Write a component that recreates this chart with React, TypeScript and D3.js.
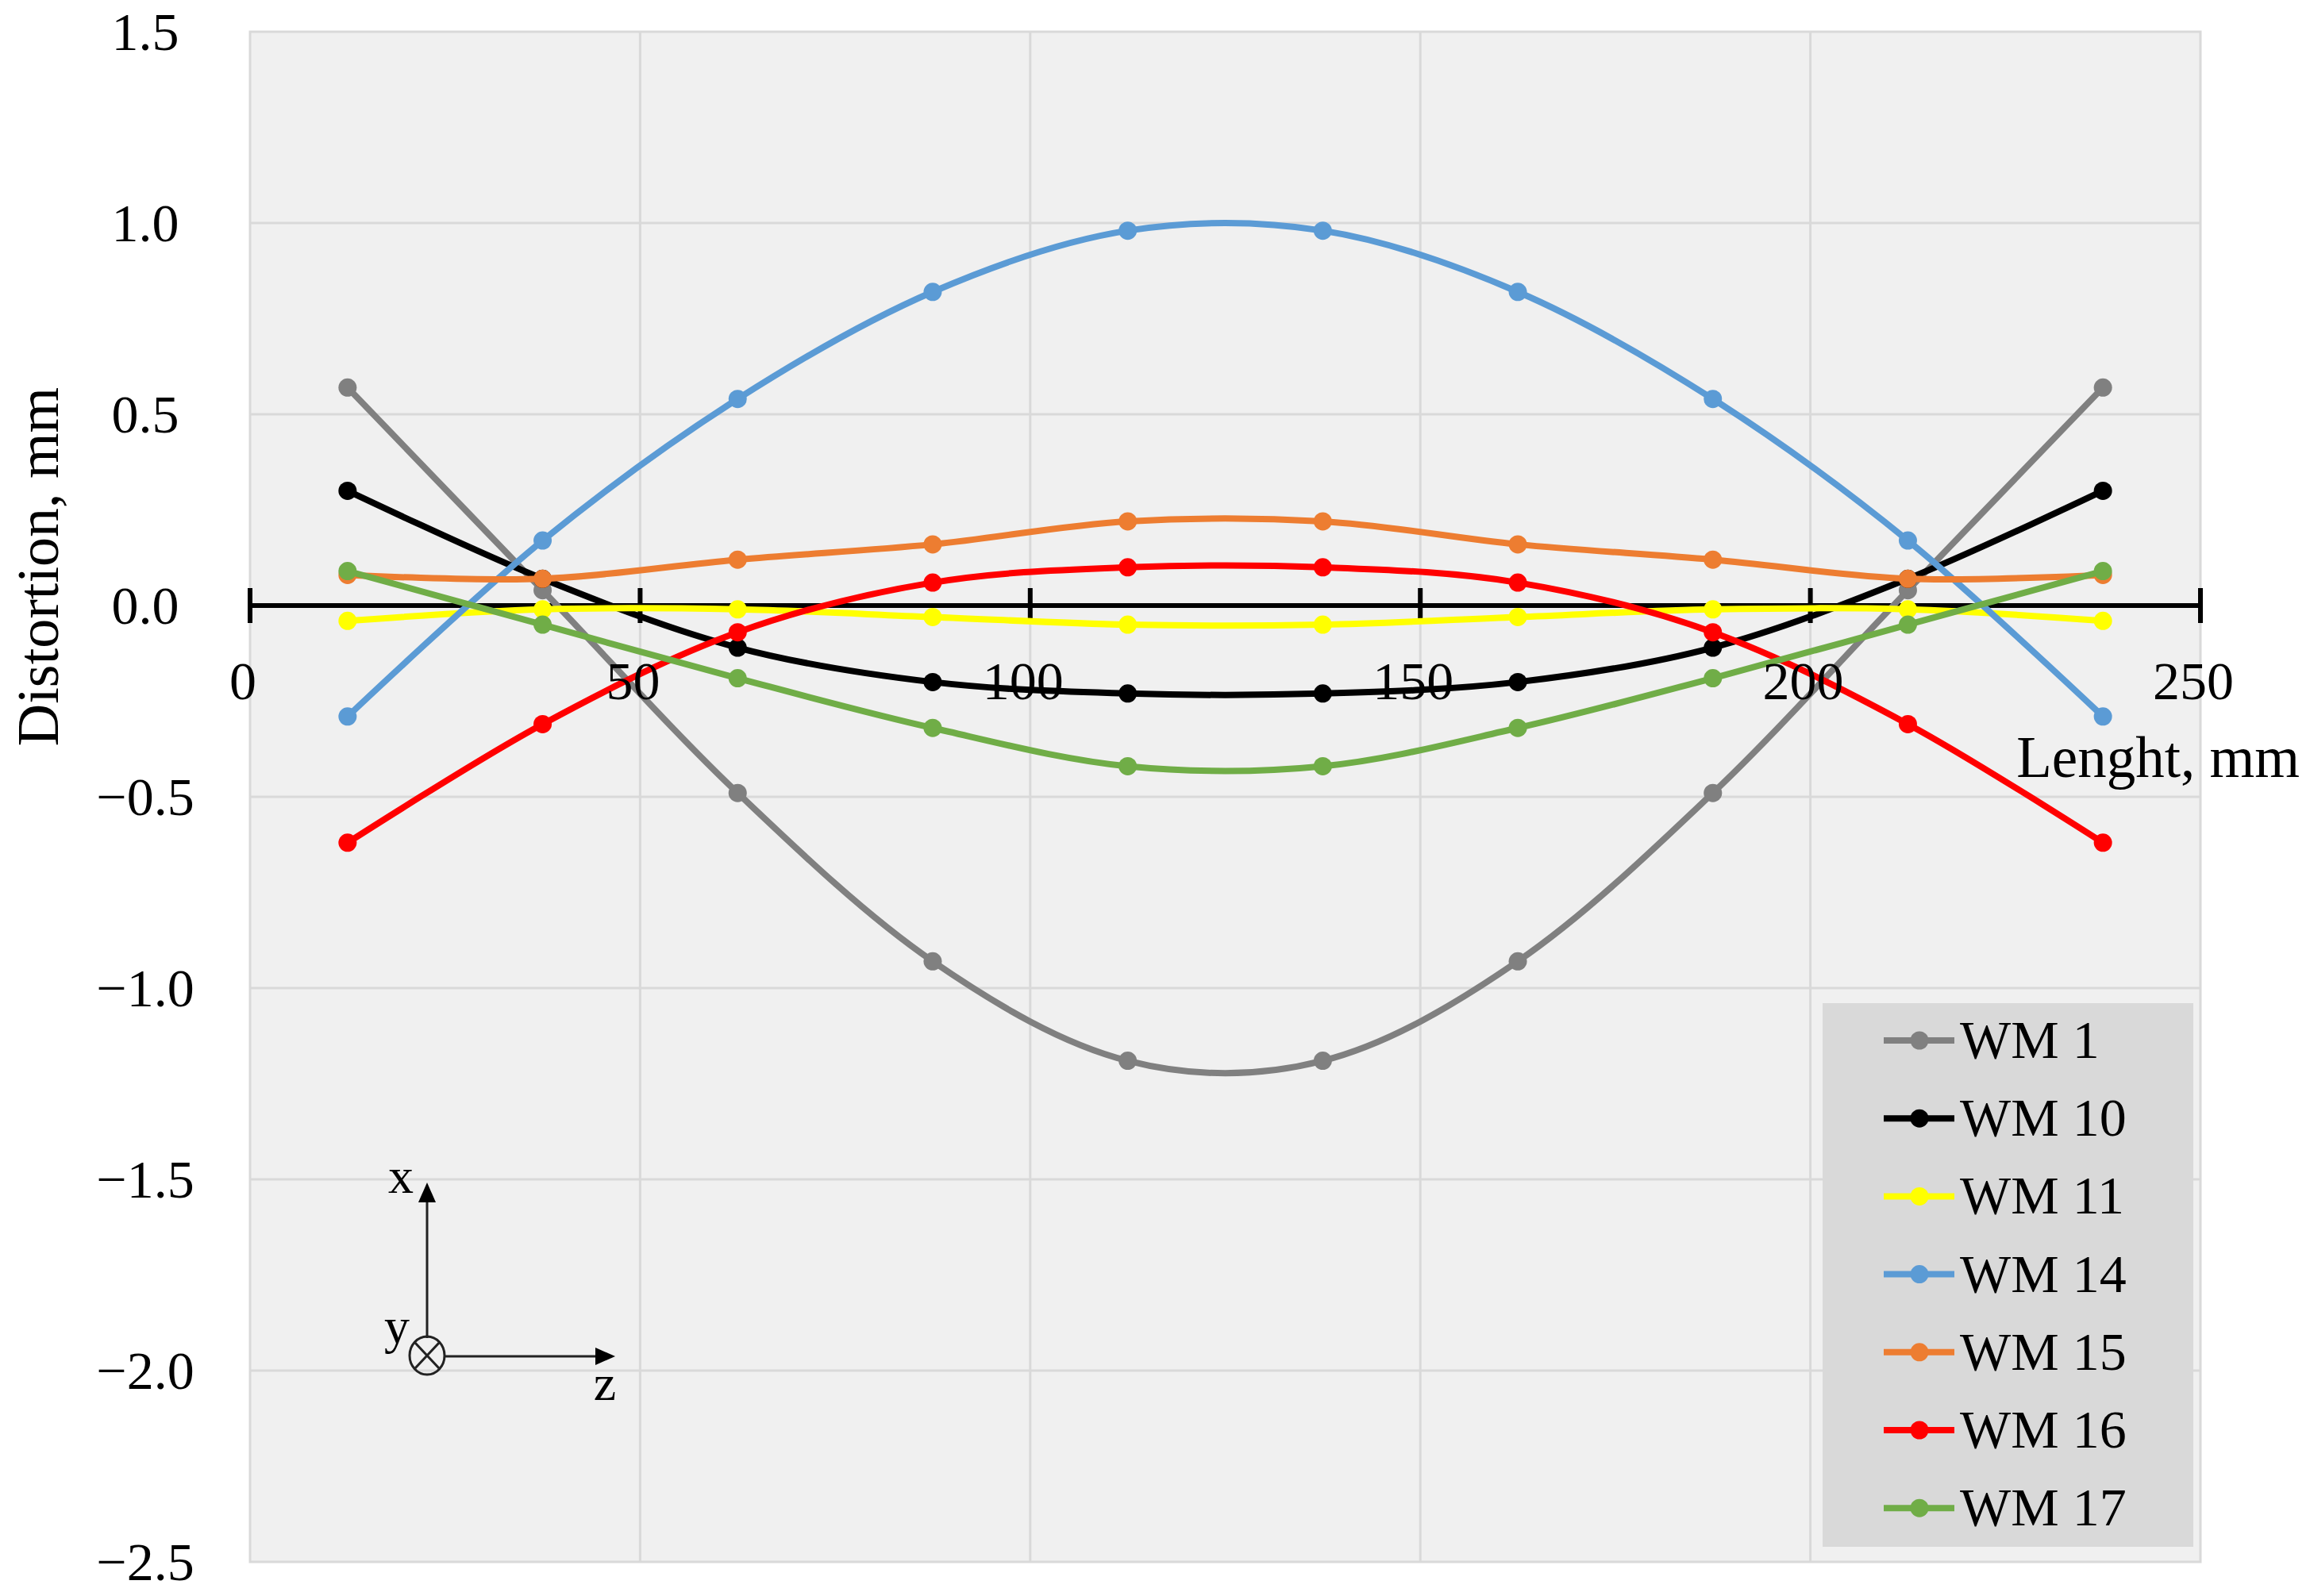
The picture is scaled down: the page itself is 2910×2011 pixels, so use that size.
import React, { useEffect } from "react";
import * as d3 from "d3";

// lengths along the weld (mm) where distortion was measured
const lengths = [12.5, 37.5, 62.5, 87.5, 112.5, 137.5, 162.5, 187.5, 212.5, 237.5];

const wm1 = [0.57, 0.04, -0.49, -0.93, -1.19, -1.19, -0.93, -0.49, 0.04, 0.57];
const wm10 = [0.3, 0.07, -0.11, -0.2, -0.23, -0.23, -0.2, -0.11, 0.07, 0.3];
const wm11 = [-0.04, -0.01, -0.01, -0.03, -0.05, -0.05, -0.03, -0.01, -0.01, -0.04];
const wm14 = [-0.29, 0.17, 0.54, 0.82, 0.98, 0.98, 0.82, 0.54, 0.17, -0.29];
const wm15 = [0.08, 0.07, 0.12, 0.16, 0.22, 0.22, 0.16, 0.12, 0.07, 0.08];
const wm16 = [-0.62, -0.31, -0.07, 0.06, 0.1, 0.1, 0.06, -0.07, -0.31, -0.62];
const wm17 = [0.09, -0.05, -0.19, -0.32, -0.42, -0.42, -0.32, -0.19, -0.05, 0.09];

const seriesNames = ["WM 1", "WM 10", "WM 11", "WM 14", "WM 15", "WM 16", "WM 17"];
const seriesValues = [wm1, wm10, wm11, wm14, wm15, wm16, wm17];
const seriesColors = ["#808080", "#000000", "#ffff00", "#5b9bd5", "#ed7d31", "#ff0000", "#70ad47"];

const xTicks = [0, 50, 100, 150, 200, 250];
const yTicks = [1.5, 1.0, 0.5, 0.0, -0.5, -1.0, -1.5, -2.0, -2.5];

const W = 2910;
const H = 2011;
const FONT = "'Liberation Serif', 'Times New Roman', serif";

const App = () => {
  useEffect(() => {
    document.body.style.margin = "0";
  }, []);

  // plot area
  const left = 315;
  const right = 2772;
  const top = 40;
  const bottom = 1968;

  const x = d3.scaleLinear().domain([0, 250]).range([left, right]);
  const y = d3.scaleLinear().domain([-2.5, 1.5]).range([bottom, top]);

  // smoothed lines like the spreadsheet's "smooth line" option
  const line = d3
    .line<number>()
    .x((d, i) => x(lengths[i]))
    .y((d) => y(d))
    .curve(d3.curveCatmullRom.alpha(0));

  const fmt = (v: number) => (v < 0 ? "\u2212" : "") + Math.abs(v).toFixed(1);

  const lineW = 8;
  const markR = 11.5;

  // legend box
  const lgX = 2296;
  const lgY = 1264;
  const lgW = 467;
  const lgH = 685;
  const lgStep = 98.2;

  // little x/y/z coordinate symbol
  const cx = 538;
  const cy = 1708;
  const cr = 22;

  return (
    <svg width={W} height={H} style={{ display: "block", background: "#fff" }} fontFamily={FONT}>
      {/* plot background */}
      <rect x={left} y={top} width={right - left} height={bottom - top} fill="#f0f0f0" stroke="#d9d9d9" strokeWidth={3} />

      {/* grid */}
      {xTicks.slice(1, -1).map((t) => (
        <line key={"gx" + t} x1={x(t)} x2={x(t)} y1={top} y2={bottom} stroke="#d9d9d9" strokeWidth={3} />
      ))}
      {yTicks.slice(1, -1).map((t) => (
        <line key={"gy" + t} x1={left} x2={right} y1={y(t)} y2={y(t)} stroke="#d9d9d9" strokeWidth={3} />
      ))}

      {/* y tick labels */}
      {yTicks.map((t) => (
        <text key={"yl" + t} x={183} y={y(t) + 23} textAnchor="middle" fontSize={68} fill="#000">
          {fmt(t)}
        </text>
      ))}

      {/* x axis at zero */}
      <line x1={left} x2={right} y1={y(0)} y2={y(0)} stroke="#000" strokeWidth={6} />
      {xTicks.map((t) => (
        <line key={"xt" + t} x1={x(t)} x2={x(t)} y1={y(0) - 22} y2={y(0) + 22} stroke="#000" strokeWidth={6} />
      ))}

      {/* series */}
      {seriesValues.map((vals, si) => (
        <g key={seriesNames[si]}>
          <path d={line(vals) || ""} fill="none" stroke={seriesColors[si]} strokeWidth={lineW} strokeLinejoin="round" />
          {vals.map((v, i) => (
            <circle key={i} cx={x(lengths[i])} cy={y(v)} r={markR} fill={seriesColors[si]} />
          ))}
        </g>
      ))}

      {/* x tick labels drawn over the lines */}
      {xTicks.map((t) => (
        <text key={"xl" + t} x={x(t) - 9} y={881} textAnchor="middle" fontSize={68} fill="#000">
          {t}
        </text>
      ))}

      {/* axis titles */}
      <text x={2897} y={979} textAnchor="end" fontSize={73} fill="#000">
        Lenght, mm
      </text>
      <text transform={`translate(73,714) rotate(-90)`} textAnchor="middle" fontSize={74} fill="#000">
        Distortion, mm
      </text>

      {/* coordinate symbol */}
      <g stroke="#222" strokeWidth={3} fill="none">
        <line x1={cx} x2={cx} y1={cy - cr} y2={1512} />
        <line x1={cx + cr} x2={752} y1={cy + 1} y2={cy + 1} />
        <ellipse cx={cx} cy={cy} rx={cr} ry={cr + 2} />
        <line x1={cx - 15} y1={cy - 16} x2={cx + 15} y2={cy + 16} />
        <line x1={cx - 15} y1={cy + 16} x2={cx + 15} y2={cy - 16} />
      </g>
      <path d={`M${cx},1490 L${cx - 11},1515 L${cx + 11},1515 Z`} fill="#000" />
      <path d={`M775,${cy + 1} L750,${cy - 10} L750,${cy + 12} Z`} fill="#000" />
      <text x={505} y={1503} textAnchor="middle" fontSize={64} fill="#000">x</text>
      <text x={500} y={1692} textAnchor="middle" fontSize={64} fill="#000">y</text>
      <text x={762} y={1764} textAnchor="middle" fontSize={64} fill="#000">z</text>

      {/* legend */}
      <rect x={lgX} y={lgY} width={lgW} height={lgH} fill="#d9d9d9" />
      {seriesNames.map((name, i) => {
        const ly = lgY + 47 + i * lgStep;
        return (
          <g key={"lg" + name}>
            <line x1={2373} x2={2462} y1={ly} y2={ly} stroke={seriesColors[i]} strokeWidth={lineW} />
            <circle cx={2418} cy={ly} r={markR} fill={seriesColors[i]} />
            <text x={2469} y={ly + 22} fontSize={68} fill="#000">
              {name}
            </text>
          </g>
        );
      })}
    </svg>
  );
};

export default App;
